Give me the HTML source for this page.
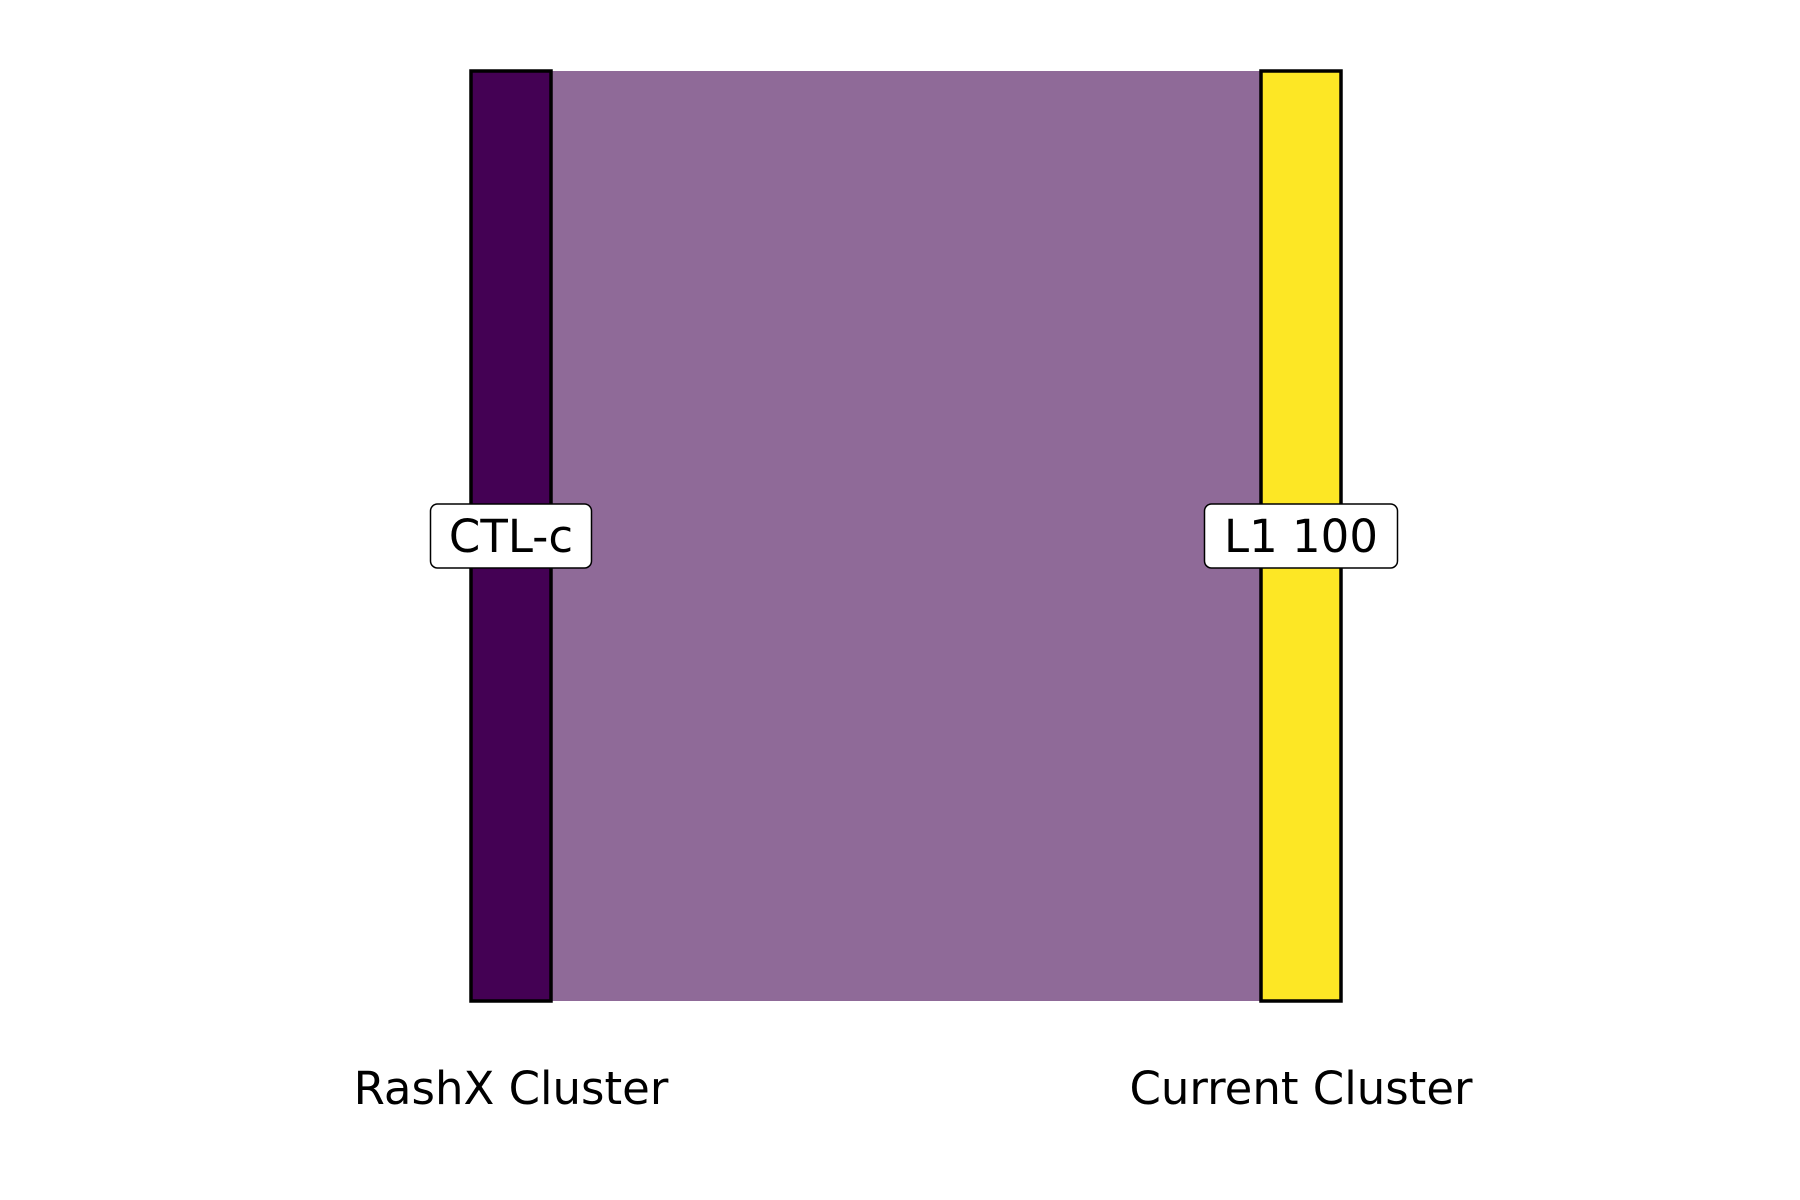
<!DOCTYPE html>
<html><head><meta charset="utf-8"><style>
html,body{margin:0;padding:0;background:#fff;}
svg{display:block;}
text{font-family:"DejaVu Sans","Liberation Sans",sans-serif;}
</style></head><body>
<svg id="chart" width="1800" height="1200" viewBox="0 0 1800 1200" xmlns="http://www.w3.org/2000/svg"></svg>
<script>
const axes = ["RashX Cluster", "Current Cluster"];
const leftStrata = ["CTL-c"];
const leftValues = [1];
const rightStrata = ["L1 100"];
const rightValues = [1];
const flowFrom = ["CTL-c"];
const flowTo = ["L1 100"];
const flowValues = [1];

const svg = document.getElementById('chart');
const NS = 'http://www.w3.org/2000/svg';
const axisX = [511, 1301];
const barW = 80;
const yTop = 71, yBot = 1001;
function mk(tag, attrs){const e=document.createElementNS(NS,tag);for(const k in attrs)e.setAttribute(k,attrs[k]);return e;}
function yScale(v,total){return yTop + (yBot-yTop)*v/total;}
const totalL = leftValues.reduce((a,b)=>a+b,0);
const totalR = rightValues.reduce((a,b)=>a+b,0);
function pos(strata, values, total){const m={};let c=0;strata.forEach((s,i)=>{m[s]=[yScale(c,total),yScale(c+values[i],total)];c+=values[i];});return m;}
const lp = pos(leftStrata,leftValues,totalL), rp = pos(rightStrata,rightValues,totalR);

let lc={},rc={};
flowValues.forEach((v,i)=>{
  const a=lp[flowFrom[i]], b=rp[flowTo[i]];
  const lo=lc[flowFrom[i]]||0, ro=rc[flowTo[i]]||0;
  const y1=a[0]+lo*(yBot-yTop)/totalL, y2=y1+v*(yBot-yTop)/totalL;
  const y3=b[0]+ro*(yBot-yTop)/totalR, y4=y3+v*(yBot-yTop)/totalR;
  lc[flowFrom[i]]=lo+v; rc[flowTo[i]]=ro+v;
  const x1=axisX[0]+barW/2, x2=axisX[1]-barW/2, xm=(x1+x2)/2;
  const p=mk('path',{d:`M${x1},${y1} C${xm},${y1} ${xm},${y3} ${x2},${y3} L${x2},${y4} C${xm},${y4} ${xm},${y2} ${x1},${y2} Z`,fill:'#8f6a98'});
  
  
  svg.appendChild(p);
});
const colorsL=['#440154'], colorsR=['#fde725'];
function drawStrata(strata,pm,x,colors,labelW,side){
  strata.forEach((s,i)=>{
    const [y0,y1]=pm[s];
    const r=mk('rect',{x:x-barW/2,y:y0,width:barW,height:y1-y0,fill:colors[i%colors.length],stroke:'#000','stroke-width':3.5});
    
    
    svg.appendChild(r);
    const cy=(y0+y1)/2;
    const g=mk('g',{});
    
    
    g.appendChild(mk('rect',{x:x-labelW/2,y:cy-32,width:labelW,height:64,rx:7,fill:'#fff',stroke:'#000','stroke-width':1.5}));
    const t=mk('text',{x:x,y:cy+16,'text-anchor':'middle','font-size':45,fill:'#000'});
    t.textContent=s;g.appendChild(t);svg.appendChild(g);
  });
}
drawStrata(leftStrata,lp,axisX[0],colorsL,161,'left');
drawStrata(rightStrata,rp,axisX[1],colorsR,193,'right');
axes.forEach((a,i)=>{
  const t=mk('text',{x:axisX[i],y:1104,'text-anchor':'middle','font-size':45,fill:'#000'});
  
  
  t.textContent=a;svg.appendChild(t);
});
</script>
</body></html>
